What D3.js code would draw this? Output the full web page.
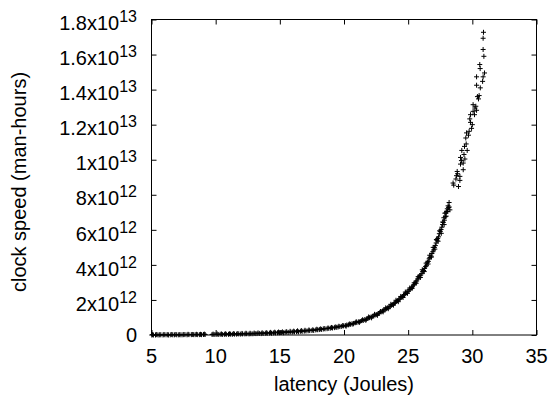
<!DOCTYPE html>
<html>
<head>
<meta charset="utf-8">
<script src="https://cdn.jsdelivr.net/npm/d3@7"></script>
<style>
  html, body { margin: 0; padding: 0; background: #fff; }
  svg { display: block; }
  text { font-family: "Liberation Sans", Arial, Helvetica, sans-serif; fill: #000; }
</style>
</head>
<body>
<div id="chart"></div>
<script>
// ---- data ----
// latency in Joules
const latency = [
  5.02, 5.15, 5.31, 5.44, 5.58, 5.73, 5.90, 6.05, 6.21, 6.34, 6.50, 6.66, 6.80, 6.97, 7.12, 7.30, 7.45, 7.61, 7.77, 7.92, 8.10, 8.26, 8.40, 8.57, 8.73, 8.90, 9.05, 9.18,
  9.72, 9.88, 10.03, 10.20, 10.35, 10.52, 10.68, 10.83, 11.00, 11.16, 11.30, 11.47, 11.63, 11.80, 11.95, 12.10, 12.28, 12.42, 12.60, 12.75, 12.90, 13.08, 13.22, 13.40, 13.55, 13.70, 13.87, 14.02, 14.20, 14.35, 14.50, 14.66, 14.82, 14.97,
  15.12, 15.28, 15.41, 15.56, 15.70, 15.86, 16.00, 16.14, 16.30, 16.45, 16.60, 16.74, 16.90, 17.04, 17.20, 17.33, 17.50, 17.64, 17.80, 17.95, 18.08, 18.24, 18.38, 18.52, 18.68, 18.82, 18.96, 19.10, 19.25, 19.40, 19.53, 19.68, 19.82, 19.97,
  20.10, 20.22, 20.36, 20.50, 20.62, 20.75, 20.88, 21.00, 21.12, 21.25, 21.38, 21.50, 21.62, 21.74, 21.86, 21.98, 22.10, 22.20, 22.32, 22.43, 22.55, 22.66, 22.78, 22.90, 23.00, 23.10, 23.20, 23.30, 23.40, 23.50, 23.60, 23.70, 23.80, 23.90, 24.00, 24.10, 24.18, 24.28, 24.37, 24.46, 24.55, 24.64, 24.73, 24.82, 24.91, 25.00,
  25.08, 25.16, 25.25, 25.33, 25.42, 25.50, 25.58, 25.66, 25.74, 25.82, 25.90, 25.98, 26.06, 26.13, 26.20, 26.28, 26.35, 26.42, 26.50, 26.57, 26.64, 26.70, 26.78, 26.85, 26.92, 26.98, 27.05, 27.12, 27.18, 27.25, 27.30, 27.37, 27.43, 27.50, 27.56, 27.62,
  27.68, 27.73, 27.78, 27.82, 27.86, 27.94, 27.90, 28.00, 28.05, 28.11, 28.15, 28.19, 28.25,
  28.50, 28.92, 28.72, 29.03, 28.77, 29.03, 28.82, 29.29, 29.08, 29.29, 29.42, 29.08, 29.18, 29.60, 29.39, 29.49, 29.55, 29.75, 29.94, 29.86, 29.80, 29.86, 30.17, 30.06, 30.33, 30.27, 30.06, 30.48, 30.53, 30.33, 30.80, 30.84, 30.33, 30.95, 30.61, 30.58, 30.90, 30.84, 30.84, 30.87,
  5.08, 5.37, 5.65, 5.97, 6.28, 6.58, 6.90, 7.20, 7.52, 7.85, 8.18, 8.50, 8.82, 9.12,
  9.80, 10.12, 10.45, 10.76, 11.08, 11.40, 11.72, 12.05, 12.36, 12.68, 13.00, 13.30, 13.62, 13.95, 14.28, 14.60, 14.90,
  15.20, 15.50, 15.80, 16.08, 16.38, 16.68, 16.96, 17.27, 17.57, 17.88, 18.16, 18.45, 18.75, 19.03, 19.32, 19.60, 19.90,
  20.16, 20.42, 20.70, 20.95, 21.20, 21.45, 21.70, 21.92, 22.15, 22.38, 22.60, 22.84, 23.05, 23.25, 23.45, 23.65, 23.85, 24.05, 24.23, 24.42, 24.60, 24.78, 24.95,
  25.12, 25.30, 25.47, 25.62, 25.78, 25.95, 26.10, 26.25, 26.40, 26.55, 26.68, 26.82, 26.95, 27.08, 27.20, 27.33, 27.46, 27.58, 27.70, 27.80, 27.96, 28.08, 28.20,
  28.55, 28.85, 29.15, 29.35, 29.52, 29.70, 30.00, 30.20, 30.40, 30.62
];
// clock speed in units of 10^12 man-hours
const clockSpeedE12 = [
  0.00, 0.00, 0.00, 0.01, 0.00, 0.01, 0.00, 0.01, 0.01, 0.00, 0.01, 0.01, 0.01, 0.01, 0.01, 0.01, 0.01, 0.02, 0.01, 0.02, 0.02, 0.02, 0.02, 0.02, 0.02, 0.02, 0.03, 0.03,
  0.03, 0.03, 0.03, 0.03, 0.04, 0.03, 0.04, 0.04, 0.04, 0.05, 0.04, 0.05, 0.05, 0.06, 0.05, 0.06, 0.06, 0.07, 0.06, 0.07, 0.07, 0.08, 0.08, 0.09, 0.08, 0.09, 0.10, 0.10, 0.11, 0.10, 0.12, 0.12, 0.13, 0.13,
  0.14, 0.13, 0.15, 0.16, 0.15, 0.17, 0.17, 0.18, 0.19, 0.18, 0.21, 0.21, 0.22, 0.23, 0.24, 0.25, 0.26, 0.26, 0.29, 0.30, 0.31, 0.32, 0.34, 0.35, 0.36, 0.38, 0.39, 0.40, 0.42, 0.44, 0.45, 0.48, 0.49, 0.52,
  0.54, 0.57, 0.58, 0.61, 0.64, 0.66, 0.70, 0.71, 0.75, 0.77, 0.82, 0.83, 0.88, 0.90, 0.95, 0.99, 1.02, 1.06, 1.09, 1.14, 1.17, 1.22, 1.27, 1.32, 1.37, 1.42, 1.45, 1.50, 1.55, 1.60, 1.63, 1.70, 1.74, 1.80, 1.86, 1.92, 1.96, 2.03, 2.07, 2.15, 2.20, 2.27, 2.31, 2.38, 2.45, 2.50,
  2.58, 2.60, 2.71, 2.75, 2.86, 2.90, 3.02, 3.08, 3.20, 3.25, 3.38, 3.42, 3.50, 3.62, 3.68, 3.80, 3.90, 3.98, 4.15, 4.20, 4.35, 4.42, 4.50, 4.65, 4.75, 4.85, 5.00, 5.10, 5.25, 5.40, 5.50, 5.60, 5.78, 5.90, 6.02, 6.15,
  6.30, 6.42, 6.69, 6.55, 6.95, 6.97, 6.75, 7.05, 7.20, 7.37, 7.28, 7.56, 7.14,
  8.67, 8.47, 8.90, 8.82, 9.09, 9.05, 9.33, 9.43, 9.75, 9.81, 10.04, 10.13, 10.53, 10.53, 10.76, 11.24, 11.53, 11.62, 11.79, 12.13, 12.33, 12.57, 12.57, 12.76, 12.82, 13.05, 13.14, 13.47, 13.66, 14.25, 14.47, 14.73, 14.73, 14.95, 15.20, 15.43, 15.90, 16.29, 16.93, 17.27,
  0.02, 0.03, 0.02, 0.03, 0.02, 0.03, 0.03, 0.02, 0.03, 0.04, 0.03, 0.04, 0.04, 0.05,
  0.05, 0.06, 0.06, 0.07, 0.07, 0.08, 0.08, 0.09, 0.10, 0.10, 0.11, 0.12, 0.13, 0.13, 0.15, 0.16, 0.17,
  0.18, 0.19, 0.21, 0.22, 0.24, 0.25, 0.27, 0.29, 0.30, 0.33, 0.35, 0.37, 0.40, 0.43, 0.46, 0.50, 0.54,
  0.50, 0.63, 0.62, 0.76, 0.72, 0.87, 0.84, 1.03, 0.98, 1.18, 1.12, 1.34, 1.32, 1.55, 1.50, 1.75, 1.70, 1.98, 1.90, 2.20, 2.14, 2.45, 2.38,
  2.68, 2.65, 2.98, 2.95, 3.33, 3.28, 3.72, 3.62, 4.10, 4.05, 4.55, 4.45, 5.00, 4.90, 5.45, 5.35, 5.95, 5.80, 6.45, 6.30, 6.78, 7.05, 7.30,
  8.55, 9.20, 9.95, 10.30, 10.90, 11.40, 12.00, 12.95, 13.60, 14.10
];

const xTicks = [5, 10, 15, 20, 25, 30, 35];
const yTicks = [0, 2, 4, 6, 8, 10, 12, 14, 16, 18];
const yTickMantissa = ["0", "2x10", "4x10", "6x10", "8x10", "1x10", "1.2x10", "1.4x10", "1.6x10", "1.8x10"];
const yTickExponent = ["", "12", "12", "12", "12", "13", "13", "13", "13", "13"];

const xLabel = "latency (Joules)";
const yLabel = "clock speed (man-hours)";

// ---- layout ----
const W = 552, H = 398;
const plotL = 151.5, plotR = 536.5, plotT = 19.5, plotB = 335;

const svg = d3.select("#chart").append("svg")
  .attr("width", W).attr("height", H);

const x = d3.scaleLinear().domain([5, 35]).range([plotL, plotR]);
const y = d3.scaleLinear().domain([0, 18]).range([plotB, plotT]);

const tickLen = 5;

// ticks on all four sides (inward)
svg.append("g").attr("transform", `translate(0,${plotB})`)
  .call(d3.axisBottom(x).tickValues(xTicks).tickSize(-tickLen).tickFormat(""))
  .call(g => g.select(".domain").remove());
svg.append("g").attr("transform", `translate(0,${plotT})`)
  .call(d3.axisTop(x).tickValues(xTicks).tickSize(-tickLen).tickFormat(""))
  .call(g => g.select(".domain").remove());
svg.append("g").attr("transform", `translate(${plotL},0)`)
  .call(d3.axisLeft(y).tickValues(yTicks).tickSize(-tickLen).tickFormat(""))
  .call(g => g.select(".domain").remove());
svg.append("g").attr("transform", `translate(${plotR},0)`)
  .call(d3.axisRight(y).tickValues(yTicks).tickSize(-tickLen).tickFormat(""))
  .call(g => g.select(".domain").remove());
svg.selectAll(".tick line").attr("stroke", "#000").attr("stroke-width", 1);

// border
svg.append("rect")
  .attr("x", plotL).attr("y", plotT)
  .attr("width", plotR - plotL).attr("height", plotB - plotT)
  .attr("fill", "none").attr("stroke", "#000").attr("stroke-width", 1);

// x tick labels
svg.append("g").selectAll("text").data(xTicks).join("text")
  .attr("x", d => x(d)).attr("y", plotB + 28)
  .attr("text-anchor", "middle").attr("font-size", 20)
  .text(d => d);

// y tick labels with superscripts
const yl = svg.append("g").selectAll("text").data(yTicks).join("text")
  .attr("x", 137)
  .attr("y", (d, i) => y(d) + (yTickExponent[i] ? 10.7 : 7))
  .attr("text-anchor", "end").attr("font-size", 20);
yl.append("tspan").text((d, i) => yTickMantissa[i]);
yl.append("tspan").attr("dy", -8).attr("font-size", 16).text((d, i) => yTickExponent[i]);

// axis titles
svg.append("text")
  .attr("x", (plotL + plotR) / 2).attr("y", 391)
  .attr("text-anchor", "middle").attr("font-size", 20)
  .text(xLabel);
svg.append("text")
  .attr("transform", `translate(26,182) rotate(-90)`)
  .attr("text-anchor", "middle").attr("font-size", 20)
  .text(yLabel);

// points as "+" markers
const pts = latency.map((d, i) => [d, clockSpeedE12[i]]);
svg.append("g").selectAll("path").data(pts).join("path")
  .attr("transform", d => `translate(${x(d[0])},${y(d[1])})`)
  .attr("d", "M-2.5,0H2.5M0,-2.5V2.5")
  .attr("stroke", "#000").attr("stroke-width", 1).attr("fill", "none");
</script>
</body>
</html>
